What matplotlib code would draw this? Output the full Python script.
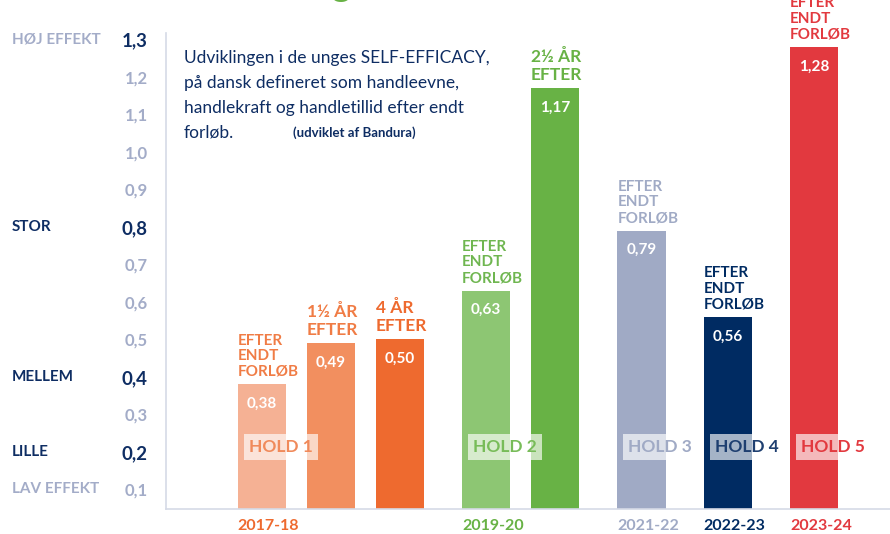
import numpy as np
import matplotlib
matplotlib.use("Agg")
import matplotlib.pyplot as plt

plt.rcParams['font.family'] = ['Lato', 'DejaVu Sans']

# data
values = [0.38, 0.49, 0.50, 0.63, 1.17, 0.79, 0.56, 1.28]
value_labels = ['0,38', '0,49', '0,50', '0,63', '1,17', '0,79', '0,56', '1,28']
bar_notes = ['EFTER\nENDT\nFORLØB', '1½ ÅR\nEFTER', '4 ÅR\nEFTER',
             'EFTER\nENDT\nFORLØB', '2½ ÅR\nEFTER',
             'EFTER\nENDT\nFORLØB', 'EFTER\nENDT\nFORLØB', 'EFTER\nENDT\nFORLØB']
years = ['2017-18', '2019-20', '2021-22', '2022-23', '2023-24']
year_bar = [0, 3, 5, 6, 7]
holds = ['HOLD 1', 'HOLD 2', 'HOLD 3', 'HOLD 4', 'HOLD 5']

ticks = [0.1, 0.2, 0.3, 0.4, 0.5, 0.6, 0.7, 0.8, 0.9, 1.0, 1.1, 1.2, 1.3]
tick_labels = ['0,1', '0,2', '0,3', '0,4', '0,5', '0,6', '0,7', '0,8',
               '0,9', '1,0', '1,1', '1,2', '1,3']
major_ticks = [0.2, 0.4, 0.8, 1.3]
levels = [1.3, 0.8, 0.4, 0.2, 0.1]
level_names = ['HØJ EFFEKT', 'STOR', 'MELLEM', 'LILLE', 'LAV EFFEKT']

# layout / colours
pos = [0, 1, 2, 3.25, 4.25, 5.5, 6.75, 8]
bar_colors = ['#F5B194', '#F28F5F', '#EE6A2F', '#8DC673', '#68B245',
              '#A0AAC5', '#002B62', '#E2393F']
note_colors = ['#F07C45', '#F07C45', '#EE6A2F', '#6FB650', '#68B245',
               '#A0AAC5', '#002B62', '#E2393F']
year_colors = ['#EE6A2F', '#68B245', '#A0AAC5', '#002B62', '#E2393F']
hold_colors = ['#F08A5B', '#78BC59', '#A0AAC5', '#1E3F70', '#E2393F']
navy = '#0E2D63'
light = '#A3ACC8'
w = 0.7

fig = plt.figure(figsize=(8.9, 5.34), dpi=100)
ax = fig.add_axes([166 / 890, 25 / 534, 724 / 890, 476 / 534])
ax.set_xlim(-1.39, 9.10)
ax.set_ylim(0.048, 1.317)

ax.bar(pos, values, width=w, color=bar_colors, zorder=2)

for i, v in enumerate(values):
    big = 'ÅR' in bar_notes[i]
    ax.annotate(value_labels[i], (pos[i], v), xytext=(0, -14), textcoords='offset points',
                ha='center', va='center', color='white', fontsize=11, fontweight='bold')
    ax.annotate(bar_notes[i], (pos[i] - w / 2, v), xytext=(0, 4), textcoords='offset points',
                ha='left', va='bottom', color=note_colors[i],
                fontsize=12.5 if big else 11, fontweight='bold',
                linespacing=1.15, annotation_clip=False)

for j, b in enumerate(year_bar):
    ax.annotate(years[j], (pos[b] - w / 2, 0.048), xytext=(0, -12), textcoords='offset points',
                ha='left', va='center', color=year_colors[j], fontsize=11.5, fontweight='bold',
                annotation_clip=False)
    ax.annotate(holds[j], (pos[b] - w / 2, 0.213), xytext=(8, 0), textcoords='offset points',
                ha='left', va='center', color=hold_colors[j], fontsize=12.5, fontweight='bold',
                zorder=4,
                bbox=dict(boxstyle='square,pad=0.3', facecolor='white', alpha=0.65,
                          edgecolor='none'))

ax.set_yticks(ticks)
ax.set_yticklabels(tick_labels)
ax.tick_params(axis='y', length=0, pad=13)
ax.set_xticks([])
for t, lab in zip(ticks, ax.get_yticklabels()):
    if t in major_ticks:
        lab.set_color(navy)
        lab.set_fontsize(13.5)
        lab.set_fontweight('bold')
    else:
        lab.set_color(light)
        lab.set_fontsize(12)
        lab.set_fontweight('bold')

for lv, name in zip(levels, level_names):
    col = navy if lv in (0.8, 0.4, 0.2) else light
    ax.text(-0.2127, lv, name, transform=ax.get_yaxis_transform(), ha='left',
            va='center', color=col, fontsize=11, fontweight='bold')

for s in ['top', 'right']:
    ax.spines[s].set_visible(False)
for s in ['left', 'bottom']:
    ax.spines[s].set_color('#D5DAE6')
    ax.spines[s].set_linewidth(1.2)

desc = ['Udviklingen i de unges SELF-EFFICACY,', 'på dansk defineret som handleevne,',
        'handlekraft og handletillid efter endt', 'forløb.']
for k, line in enumerate(desc):
    fig.text(184 / 890, 1 - (58 + 25 * k) / 534, line, ha='left', va='center',
             color=navy, fontsize=12.5)
fig.text(293 / 890, 1 - 133 / 534, '(udviklet af Bandura)', ha='left', va='center',
         color=navy, fontsize=9.5, fontweight='bold')

# cut-off title remnant
fig.text(331 / 890, 1 + 4 / 534, 'g', ha='left', va='baseline', color='#68B245',
         fontsize=26, fontweight='bold')

fig.savefig('out.png', dpi=100)
